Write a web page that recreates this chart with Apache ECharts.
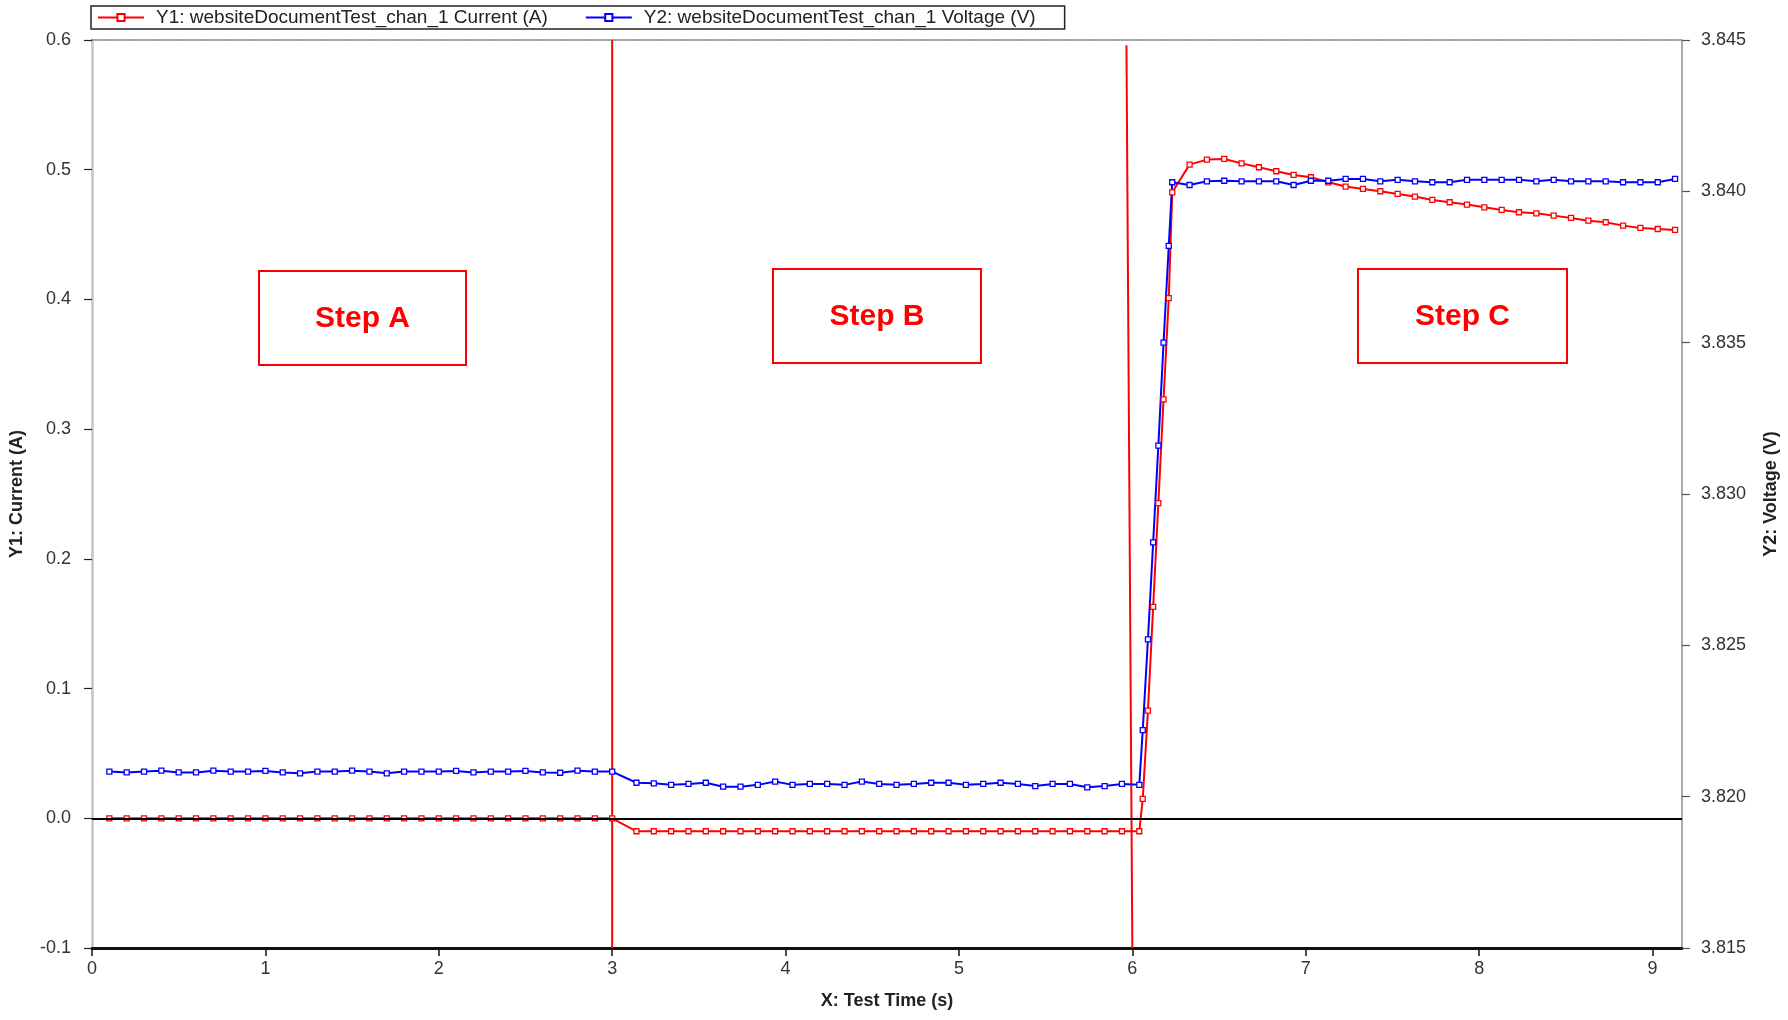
<!DOCTYPE html>
<html>
<head>
<meta charset="utf-8">
<script src="https://cdn.jsdelivr.net/npm/echarts@6/dist/echarts.min.js"></script>
<style>
html,body{margin:0;padding:0;background:#fff;}
#chart{width:1788px;height:1020px;}
</style>
</head>
<body>
<div id="chart"></div>
<script>
// ---------------- data ----------------
const timeStepA = [0.1,0.2,0.3,0.4,0.5,0.6,0.7,0.8,0.9,1.0,1.1,1.2,1.3,1.4,1.5,1.6,1.7,1.8,1.9,2.0,2.1,2.2,2.3,2.4,2.5,2.6,2.7,2.8,2.9,3.0];
const currentStepA = [0,0,0,0,0,0,0,0,0,0,0,0,0,0,0,0,0,0,0,0,0,0,0,0,0,0,0,0,0,0];
const voltageStepA = [3.82083,3.82080,3.82083,3.82086,3.82080,3.82080,3.82086,3.82083,3.82083,3.82085,3.82080,3.82077,3.82083,3.82083,3.82086,3.82083,3.82077,3.82083,3.82083,3.82083,3.82085,3.82080,3.82083,3.82083,3.82085,3.82080,3.82079,3.82086,3.82083,3.82083];

const timeStepB = [3.14,3.24,3.34,3.44,3.54,3.64,3.74,3.84,3.94,4.04,4.14,4.24,4.34,4.44,4.54,4.64,4.74,4.84,4.94,5.04,5.14,5.24,5.34,5.44,5.54,5.64,5.74,5.84,5.94,6.04];
const currentStepB = [-0.010,-0.010,-0.010,-0.010,-0.010,-0.010,-0.010,-0.010,-0.010,-0.010,-0.010,-0.010,-0.010,-0.010,-0.010,-0.010,-0.010,-0.010,-0.010,-0.010,-0.010,-0.010,-0.010,-0.010,-0.010,-0.010,-0.010,-0.010,-0.010,-0.010];
const voltageStepB = [3.82046,3.82044,3.82039,3.82042,3.82046,3.82033,3.82033,3.82039,3.82050,3.82039,3.82042,3.82042,3.82039,3.82050,3.82042,3.82039,3.82042,3.82046,3.82046,3.82039,3.82042,3.82046,3.82042,3.82035,3.82042,3.82042,3.82031,3.82035,3.82042,3.82039];

const timeRise = [6.06,6.09,6.12,6.15,6.18,6.21];
const currentRise = [0.015,0.083,0.163,0.243,0.323,0.401];
const voltageRise = [3.8222,3.8252,3.8284,3.8316,3.8350,3.8382];

const timeStepC = [6.23,6.33,6.43,6.53,6.63,6.73,6.83,6.93,7.03,7.13,7.23,7.33,7.43,7.53,7.63,7.73,7.83,7.93,8.03,8.13,8.23,8.33,8.43,8.53,8.63,8.73,8.83,8.93,9.03,9.13];
const currentStepC = [0.4826,0.5039,0.5078,0.5083,0.5049,0.5019,0.4988,0.4960,0.4942,0.4903,0.4870,0.4852,0.4834,0.4813,0.4793,0.4767,0.4749,0.4731,0.4710,0.4690,0.4672,0.4664,0.4646,0.4628,0.4607,0.4595,0.4569,0.4551,0.4543,0.4536];
const voltageStepC = [3.84030,3.84021,3.84033,3.84035,3.84033,3.84033,3.84033,3.84021,3.84035,3.84035,3.84041,3.84041,3.84033,3.84038,3.84033,3.84030,3.84030,3.84038,3.84038,3.84038,3.84038,3.84033,3.84038,3.84033,3.84033,3.84033,3.84030,3.84030,3.84030,3.84041];

// step boundary markers (x, current)
const boundary1X = [3.0, 3.0];
const boundary1Y = [0.6, -0.1];
const boundary2X = [5.966, 6.0];
const boundary2Y = [0.596, -0.1];

const xTickValues = [0,1,2,3,4,5,6,7,8,9];
const stepLabels = ['Step A','Step B','Step C'];

const seriesNames = ['Y1: websiteDocumentTest_chan_1 Current (A)', 'Y2: websiteDocumentTest_chan_1 Voltage (V)'];

// ---------------- build ----------------
const time = timeStepA.concat(timeStepB, timeRise, timeStepC);
const current = currentStepA.concat(currentStepB, currentRise, currentStepC);
const voltage = voltageStepA.concat(voltageStepB, voltageRise, voltageStepC);
const pairs = (xs, ys) => xs.map((x, i) => [x, ys[i]]);

const FONT = '"Liberation Sans", Arial, sans-serif';
const chart = echarts.init(document.getElementById('chart'), null, {renderer: 'canvas'});

const boxes = [
  {x: 259, y: 271, w: 207, h: 94},
  {x: 773, y: 269, w: 208, h: 94},
  {x: 1358, y: 269, w: 209, h: 94}
];
const graphics = [];
boxes.forEach((b, i) => {
  graphics.push({type: 'rect', shape: {x: b.x, y: b.y, width: b.w, height: b.h},
    style: {fill: '#fff', stroke: '#ff0000', lineWidth: 2}, z: 100});
  graphics.push({type: 'text', x: b.x + b.w / 2, y: b.y + b.h / 2 + 1,
    style: {text: stepLabels[i], fill: '#ff0000', font: 'bold 30px ' + FONT, align: 'center', verticalAlign: 'middle'}, z: 101});
});

const option = {
  backgroundColor: '#ffffff',
  animation: false,
  textStyle: {fontFamily: FONT},
  graphic: graphics,
  legend: {
    data: seriesNames,
    left: 91, top: 6,
    padding: [2, 29, 2, 6],
    itemWidth: 46, itemHeight: 9, itemGap: 37,
    borderColor: '#222', borderWidth: 1.5,
    textStyle: {fontSize: 19, color: '#222', fontFamily: FONT, padding: [0, 0, 0, 7]}
  },
  grid: {left: 92, right: 105, top: 40, bottom: 72, containLabel: false},
  xAxis: [
    {
      type: 'value', min: 0, max: 9.17, interval: 1, position: 'bottom',
      name: 'X: Test Time (s)', nameLocation: 'middle', nameGap: 44,
      nameTextStyle: {fontSize: 18, fontWeight: 'bold', color: '#222', fontFamily: FONT},
      axisLine: {show: true, onZero: false, lineStyle: {color: '#111', width: 3}},
      axisTick: {show: true, length: 8, customValues: xTickValues, lineStyle: {color: '#111', width: 1.5}},
      axisLabel: {customValues: xTickValues, fontSize: 18, color: '#333', margin: 12, fontFamily: FONT},
      splitLine: {show: false}
    },
    {
      type: 'value', min: 0, max: 9.17, interval: 1, position: 'top',
      axisLine: {show: true, onZero: false, lineStyle: {color: '#777', width: 1.5, type: 'dotted'}},
      axisTick: {show: false}, axisLabel: {show: false}, splitLine: {show: false}
    }
  ],
  yAxis: [
    {
      type: 'value', min: -0.1, max: 0.6, interval: 0.1, position: 'left',
      name: 'Y1: Current (A)', nameLocation: 'middle', nameGap: 66, nameRotate: 90,
      nameTextStyle: {fontSize: 18, fontWeight: 'bold', color: '#222', fontFamily: FONT},
      axisLine: {show: true, onZero: false, lineStyle: {color: '#c4c4c4', width: 2.5}},
      axisTick: {show: true, length: 8, lineStyle: {color: '#222', width: 1.2}},
      axisLabel: {fontSize: 18, color: '#333', margin: 21, fontFamily: FONT, formatter: v => v.toFixed(1)},
      splitLine: {show: false}
    },
    {
      type: 'value', min: 3.815, max: 3.845, interval: 0.005, position: 'right',
      name: 'Y2: Voltage (V)', nameLocation: 'middle', nameGap: 80, nameRotate: 90,
      nameTextStyle: {fontSize: 18, fontWeight: 'bold', color: '#222', fontFamily: FONT},
      axisLine: {show: true, onZero: false, lineStyle: {color: '#aaa', width: 2}},
      axisTick: {show: true, length: 8, lineStyle: {color: '#555', width: 1.2}},
      axisLabel: {fontSize: 18, color: '#333', margin: 19, fontFamily: FONT, formatter: v => v.toFixed(3)},
      splitLine: {show: false}
    }
  ],
  series: [
    {
      name: 'boundary1', type: 'line', xAxisIndex: 0, yAxisIndex: 0,
      data: pairs(boundary1X, boundary1Y), symbol: 'none', silent: true,
      lineStyle: {color: '#ff0000', width: 2}, z: 3
    },
    {
      name: 'boundary2', type: 'line', xAxisIndex: 0, yAxisIndex: 0,
      data: pairs(boundary2X, boundary2Y), symbol: 'none', silent: true,
      lineStyle: {color: '#ff0000', width: 2}, z: 3
    },
    {
      name: seriesNames[0], type: 'line', xAxisIndex: 0, yAxisIndex: 0,
      data: pairs(time, current),
      showAllSymbol: true, symbol: 'rect', symbolSize: 5,
      color: '#ff0000',
      itemStyle: {color: '#ffffff', borderColor: '#ff0000', borderWidth: 1.3},
      lineStyle: {color: '#ff0000', width: 2},
      markLine: {
        silent: true, symbol: 'none', label: {show: false},
        lineStyle: {color: '#000', width: 2, type: 'solid'},
        data: [{yAxis: 0}]
      },
      z: 4
    },
    {
      name: seriesNames[1], type: 'line', xAxisIndex: 0, yAxisIndex: 1,
      data: pairs(time, voltage),
      showAllSymbol: true, symbol: 'rect', symbolSize: 5,
      color: '#0000ff',
      itemStyle: {color: '#ffffff', borderColor: '#0000ff', borderWidth: 1.3},
      lineStyle: {color: '#0000ff', width: 2},
      z: 4
    }
  ]
};
chart.setOption(option);
</script>
</body>
</html>
